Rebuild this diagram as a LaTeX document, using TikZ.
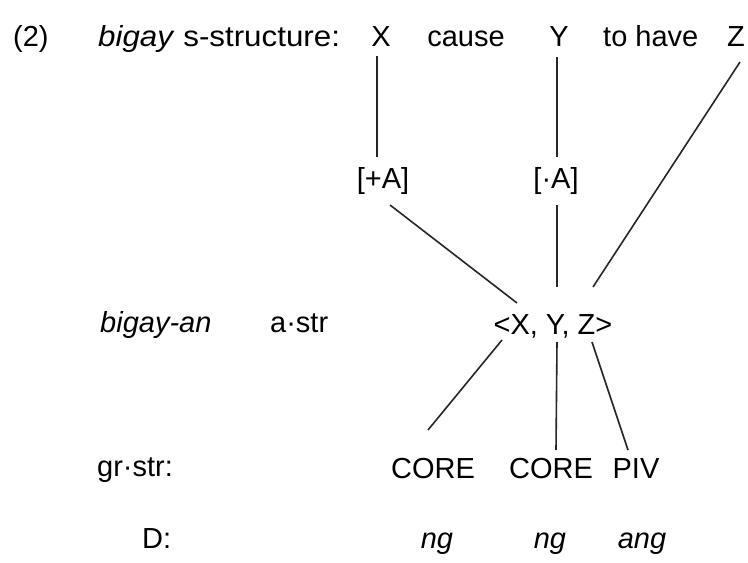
\documentclass[tikz,border=0pt]{standalone}
\usepackage{fontspec}
\setmainfont{Liberation Sans}
\usetikzlibrary{calc}
\begin{document}
\begin{tikzpicture}[x=1pt,y=-1pt,
  lbl/.style={anchor=base,inner sep=0pt,font=\fontsize{29}{34}\selectfont},
  lblw/.style={lbl,anchor=base west},
  link/.style={line width=1.6pt,draw=black!85}]
\fill[white] (0,0) rectangle (748,563);
\path[use as bounding box] (0,0) rectangle (748,563);
% row 1
\node[lblw] (num) at (13,46) {(2)};
\node[lblw] (sstr) at (98,46) {\scalebox{1.08}[1]{\textit{bigay} s-structure:}};
\node[lbl] (X) at (381,46) {X};
\node[lbl] (cause) at (466,46) {cause};
\node[lbl] (Y) at (559,46) {Y};
\node[lblw] (have) at (603,46) {to have};
\node[lbl] (Z) at (736,46) {Z};
% features
\node[lbl] (pA) at (383,188) {[+A]};
\node[lbl] (mA) at (556,188) {[·A]};
% a-structure
\node[lblw] (bigayan) at (100,332) {\textit{bigay-an}};
\node[lblw] (astr) at (270,332) {a·str};
\node[lbl] (xyz) at (553,334) {<X, Y, Z>};
% gr-structure
\node[lblw] (grstr) at (97,476) {gr·str:};
\node[lbl] (core1) at (433,478) {CORE};
\node[lbl] (core2) at (551,478) {CORE};
\node[lbl] (piv) at (636,478) {PIV};
% D
\node[lblw] (D) at (142,548) {D:};
\node[lbl] (ng1) at (437,548) {\textit{ng}};
\node[lbl] (ng2) at (550,548) {\textit{ng}};
\node[lbl] (ang) at (642,548) {\textit{ang}};
% connectors
\draw[link] ($(X.base)+(-4,10)$) -- ($(pA.base)+(-6,-31)$);
\draw[link] ($(Y.base)+(-2,11)$) -- ($(mA.base)+(1,-31)$);
\draw[link] ($(Z.base)+(4,16)$) -- ($(xyz.base)+(40,-47)$);
\draw[link] ($(pA.base)+(7,17)$) -- ($(xyz.base)+(-36,-31)$);
\draw[link] ($(mA.base)+(1,17)$) -- ($(xyz.base)+(4,-47)$);
\draw[link] ($(xyz.base)+(-51,6)$) -- ($(core1.base)+(-5,-48)$);
\draw[link] ($(xyz.base)+(4,8)$) -- ($(core2.base)+(5,-28)$);
\draw[link] ($(xyz.base)+(39,8)$) -- ($(piv.base)+(-8,-28)$);
\end{tikzpicture}
\end{document}
